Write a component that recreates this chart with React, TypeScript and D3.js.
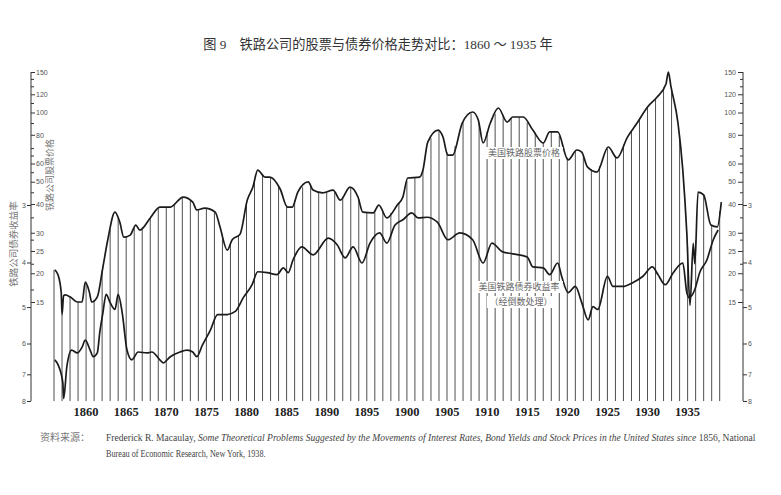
import React, { useEffect, useRef } from 'react';
import * as d3 from 'd3';

// 美国铁路股票价格 (ratio scale)
const stockYears = [
    1856.1, 1856.5, 1856.9, 1857.0, 1857.2, 1857.4, 1858.0, 1858.9, 1859.5, 1859.9,
    1860.4, 1860.7, 1861.4, 1862.1, 1862.7, 1863.6, 1864.2, 1864.7, 1865.5, 1866.2,
    1866.7, 1868.0, 1869.2, 1870.5, 1872.1, 1873.3, 1873.8, 1874.8, 1876.1, 1876.7,
    1877.6, 1878.2, 1879.2, 1880.1, 1880.8, 1881.4, 1882.3, 1882.9, 1884.2, 1885.1,
    1885.7, 1886.4, 1887.7, 1888.3, 1889.5, 1890.8, 1891.7, 1892.9, 1893.9, 1894.5,
    1895.8, 1896.5, 1897.5, 1898.8, 1899.5, 1900.1, 1901.6, 1902.0, 1902.6, 1903.9,
    1904.5, 1905.1, 1905.7, 1906.9, 1908.2, 1908.9, 1909.5, 1910.4, 1911.4, 1912.5,
    1913.2, 1914.5, 1915.7, 1917.0, 1917.8, 1918.8, 1920.1, 1921.2, 1921.8, 1922.5,
    1923.7, 1925.1, 1926.2, 1927.5, 1928.7, 1930.0, 1931.2, 1932.3, 1932.6, 1932.9,
    1933.8, 1934.4, 1934.9, 1935.3, 1935.7, 1935.9, 1936.3, 1937.0, 1937.9, 1938.7,
    1939.2,
];
const stockPrices = [
    20.7, 19.7, 16.5, 13.2, 16.0, 16.1, 15.8, 15.0, 15.0, 18.3,
    16.6, 15.0, 15.8, 21.3, 27.9, 36.9, 33.4, 28.7, 29.3, 32.4,
    30.8, 34.8, 38.8, 38.8, 42.9, 40.8, 37.7, 38.4, 36.9, 31.8,
    25.2, 27.9, 29.6, 41.6, 47.4, 56.2, 52.4, 52.4, 46.5, 38.8,
    38.8, 45.1, 49.9, 46.0, 44.7, 46.0, 41.6, 47.4, 42.9, 36.9,
    36.6, 39.6, 34.8, 39.6, 42.9, 51.9, 52.4, 56.2, 74.4, 83.9,
    78.2, 65.3, 65.3, 90.0, 100.5, 92.8, 73.7, 90.0, 104.6, 90.9,
    95.6, 95.6, 83.9, 73.7, 82.3, 82.3, 62.2, 68.7, 67.3, 58.0,
    55.1, 70.8, 63.4, 78.2, 90.0, 105.7, 116.8, 133, 150, 131,
    90.0, 56.2, 29.9, 14.5, 27.0, 22.0, 45.1, 43.8, 32.4, 31.8,
    40.8,
];

// 美国铁路债券收益率 (%, plotted inverted on a ratio scale)
const bondYears = [
    1856.1, 1856.5, 1857.1, 1857.2, 1857.6, 1858.2, 1858.9, 1859.5, 1859.9, 1860.5,
    1860.9, 1861.4, 1861.7, 1862.1, 1862.5, 1863.0, 1863.6, 1864.0, 1864.5, 1865.1,
    1865.7, 1866.5, 1867.6, 1868.2, 1869.2, 1869.6, 1870.5, 1871.7, 1872.6, 1873.3,
    1873.8, 1874.5, 1875.5, 1876.4, 1877.6, 1878.6, 1879.6, 1880.7, 1881.4, 1882.6,
    1883.8, 1884.6, 1885.2, 1885.8, 1886.9, 1888.3, 1890.2, 1891.3, 1892.3, 1893.3,
    1894.4, 1895.4, 1896.6, 1897.5, 1898.5, 1899.5, 1900.6, 1901.4, 1902.5, 1903.8,
    1905.1, 1906.6, 1908.2, 1909.5, 1910.6, 1911.9, 1913.2, 1915.0, 1915.7, 1917.0,
    1917.8, 1918.8, 1919.3, 1920.1, 1921.0, 1921.8, 1922.6, 1923.2, 1923.8, 1925.0,
    1925.7, 1926.9, 1928.2, 1929.4, 1930.6, 1931.3, 1932.2, 1933.2, 1934.4, 1934.9,
    1935.2, 1935.9, 1936.5, 1937.4, 1938.2, 1938.8,
];
const bondYields = [
    6.51, 6.67, 7.30, 7.90, 6.74, 6.20, 6.29, 6.11, 5.90, 6.20,
    6.41, 6.29, 5.69, 5.14, 4.69, 4.89, 5.06, 4.69, 5.14, 6.20,
    6.51, 6.26, 6.29, 6.26, 6.51, 6.61, 6.41, 6.26, 6.20, 6.26,
    6.41, 6.05, 5.61, 5.19, 5.19, 5.11, 4.77, 4.47, 4.19, 4.21,
    4.25, 4.11, 4.21, 3.95, 3.70, 3.85, 3.54, 3.66, 3.91, 3.70,
    4.01, 3.63, 3.45, 3.63, 3.32, 3.23, 3.12, 3.20, 3.19, 3.27,
    3.57, 3.45, 3.57, 4.01, 3.63, 3.79, 3.83, 3.89, 4.09, 4.11,
    4.25, 4.01, 4.29, 4.65, 4.51, 4.89, 5.33, 4.99, 5.06, 4.29,
    4.51, 4.51, 4.42, 4.29, 4.09, 4.25, 4.47, 4.21, 4.01, 4.65,
    4.77, 4.58, 4.21, 3.95, 3.57, 3.40,
];

const yearLabels = [1860, 1865, 1870, 1875, 1880, 1885, 1890, 1895, 1900, 1905, 1910, 1915, 1920, 1925, 1930, 1935];
const stockTicks = [15, 20, 25, 30, 40, 50, 60, 80, 100, 120, 150];
const stockMinorTicks = [17, 22, 28, 35, 45, 55, 65, 70, 90, 110, 130, 140];
const bondTicks = [3, 4, 5, 6, 7, 8];
const firstYear = 1856;
const lastYear = 1939;

const App: React.FC = () => {
    const ref = useRef<SVGSVGElement | null>(null);

    useEffect(() => {
        const svg = d3.select(ref.current);
        svg.selectAll('*').remove();

        const bottom = 401;
        const leftX = 31;
        const rightX = 743;

        const x = d3.scaleLinear().domain([firstYear, lastYear]).range([54, 719.7]);
        const yStock = d3.scaleLog().domain([15, 150]).range([302, 72]);
        const yBond = d3.scaleLog().domain([3, 8]).range([205, 401]);

        svg.append('rect').attr('width', 781).attr('height', 495).attr('fill', '#fff');

        // title
        svg.append('text')
            .attr('x', 378).attr('y', 49)
            .attr('text-anchor', 'middle')
            .attr('font-family', "'Liberation Serif', 'Noto Sans CJK SC', serif")
            .attr('font-size', 13.2)
            .attr('fill', '#333')
            .text('图 9　铁路公司的股票与债券价格走势对比：1860 ～ 1935 年');

        // yearly verticals up to the stock curve
        const stockAt = (t: number) => {
            if (t <= stockYears[0]) return stockPrices[0];
            const i = d3.bisectRight(stockYears, t);
            if (i >= stockYears.length) return stockPrices[stockPrices.length - 1];
            const f = (t - stockYears[i - 1]) / (stockYears[i] - stockYears[i - 1]);
            return stockPrices[i - 1] + f * (stockPrices[i] - stockPrices[i - 1]);
        };
        svg.append('g')
            .selectAll('line')
            .data(d3.range(firstYear, lastYear + 1))
            .join('line')
            .attr('x1', d => x(d)).attr('x2', d => x(d))
            .attr('y1', bottom).attr('y2', d => yStock(stockAt(d)))
            .attr('stroke', '#3a3a3a')
            .attr('stroke-width', 0.9);

        // axes lines
        [leftX, rightX].forEach(ax => {
            svg.append('line')
                .attr('x1', ax).attr('x2', ax)
                .attr('y1', yStock(150)).attr('y2', bottom)
                .attr('stroke', '#333').attr('stroke-width', 1);
        });

        const styleAxis = (g: d3.Selection<SVGGElement, unknown, null, undefined>) => {
            g.select('.domain').remove();
            g.selectAll('line').attr('stroke', '#333');
            g.selectAll('text')
                .attr('font-family', "'Liberation Sans', Arial, sans-serif")
                .attr('font-size', 7)
                .attr('fill', '#555');
        };

        svg.append('g')
            .attr('transform', `translate(${leftX},0)`)
            .call(d3.axisRight(yStock).tickValues(stockTicks).tickFormat(d3.format('d')).tickSize(4).tickPadding(1))
            .call(styleAxis);
        svg.append('g')
            .attr('transform', `translate(${leftX},0)`)
            .call(d3.axisRight(yStock).tickValues(stockMinorTicks).tickFormat(() => '').tickSize(3))
            .call(styleAxis);
        svg.append('g')
            .attr('transform', `translate(${leftX},0)`)
            .call(d3.axisLeft(yBond).tickValues(bondTicks).tickFormat(d3.format('d')).tickSize(4).tickPadding(1))
            .call(styleAxis);

        svg.append('g')
            .attr('transform', `translate(${rightX},0)`)
            .call(d3.axisLeft(yStock).tickValues(stockTicks).tickFormat(d3.format('d')).tickSize(5).tickPadding(2))
            .call(styleAxis);
        svg.append('g')
            .attr('transform', `translate(${rightX},0)`)
            .call(d3.axisLeft(yStock).tickValues(stockMinorTicks).tickFormat(() => '').tickSize(3))
            .call(styleAxis);
        svg.append('g')
            .attr('transform', `translate(${rightX},0)`)
            .call(d3.axisRight(yBond).tickValues(bondTicks).tickFormat(d3.format('d')).tickSize(4).tickPadding(1))
            .call(styleAxis);

        // curves
        const stockLine = d3.line<number>()
            .x((_, i) => x(stockYears[i]))
            .y(d => yStock(d))
            .curve(d3.curveMonotoneX);
        const bondLine = d3.line<number>()
            .x((_, i) => x(bondYears[i]))
            .y(d => yBond(d))
            .curve(d3.curveMonotoneX);

        svg.append('path')
            .datum(stockPrices)
            .attr('fill', 'none')
            .attr('stroke', '#1b1b1b')
            .attr('stroke-width', 1.7)
            .attr('stroke-linejoin', 'round')
            .attr('d', stockLine);
        svg.append('path')
            .datum(bondYields)
            .attr('fill', 'none')
            .attr('stroke', '#1b1b1b')
            .attr('stroke-width', 1.7)
            .attr('stroke-linejoin', 'round')
            .attr('d', bondLine);

        // year labels
        svg.append('g')
            .selectAll('text')
            .data(yearLabels)
            .join('text')
            .attr('x', d => x(d))
            .attr('y', 416)
            .attr('text-anchor', 'middle')
            .attr('font-family', "'Liberation Serif', serif")
            .attr('font-weight', 'bold')
            .attr('font-size', 12.5)
            .attr('fill', '#222')
            .text(d => d);

        // series labels
        const cjk = "'Noto Sans CJK SC', sans-serif";
        const label = (tx: number, ty: number, s: string, w: number) => {
            svg.append('rect')
                .attr('x', tx - w / 2 - 2).attr('y', ty - 9)
                .attr('width', w + 4).attr('height', 12)
                .attr('fill', '#fff');
            svg.append('text')
                .attr('x', tx).attr('y', ty)
                .attr('text-anchor', 'middle')
                .attr('font-family', cjk)
                .attr('font-size', 9)
                .attr('fill', '#666')
                .text(s);
        };
        label(524, 156, '美国铁路股票价格', 74);
        label(519, 290, '美国铁路债券收益率', 84);
        label(521, 305, '（经倒数处理）', 64);

        // rotated axis titles
        svg.append('text')
            .attr('transform', 'translate(53,175) rotate(-90)')
            .attr('text-anchor', 'middle')
            .attr('font-family', cjk)
            .attr('font-size', 9)
            .attr('fill', '#777')
            .text('铁路公司股票价格');
        svg.append('text')
            .attr('transform', 'translate(17,244) rotate(-90)')
            .attr('text-anchor', 'middle')
            .attr('font-family', cjk)
            .attr('font-size', 9.5)
            .attr('fill', '#777')
            .text('铁路公司债券收益率');

        // source note, squeezed horizontally like the condensed book face
        svg.append('text')
            .attr('x', 40).attr('y', 441)
            .attr('font-family', cjk)
            .attr('font-size', 10)
            .attr('fill', '#777')
            .text('资料来源：');
        const note = (tx: number, ty: number, width: number) => {
            const t = svg.append('text')
                .attr('font-family', "'Liberation Serif', serif")
                .attr('font-size', 10)
                .attr('fill', '#444');
            return { t, fit: () => {
                const w = (t.node() as SVGTextElement).getComputedTextLength() || width;
                t.attr('transform', `translate(${tx},${ty}) scale(${width / w},1)`);
            } };
        };
        const line1 = note(106, 441, 651);
        line1.t.append('tspan').text('Frederick R. Macaulay, ');
        line1.t.append('tspan').attr('font-style', 'italic')
            .text('Some Theoretical Problems Suggested by the Movements of Interest Rates, Bond Yields and Stock Prices in the United States since');
        line1.t.append('tspan').text(' 1856, National');
        line1.fit();
        const line2 = note(106, 457, 160);
        line2.t.text('Bureau of Economic Research, New York, 1938.');
        line2.fit();
    }, []);

    return (
        <svg
            ref={ref}
            width={781}
            height={495}
            style={{ position: 'absolute', left: 0, top: 0, display: 'block' }}
        ></svg>
    );
};

export default App;
